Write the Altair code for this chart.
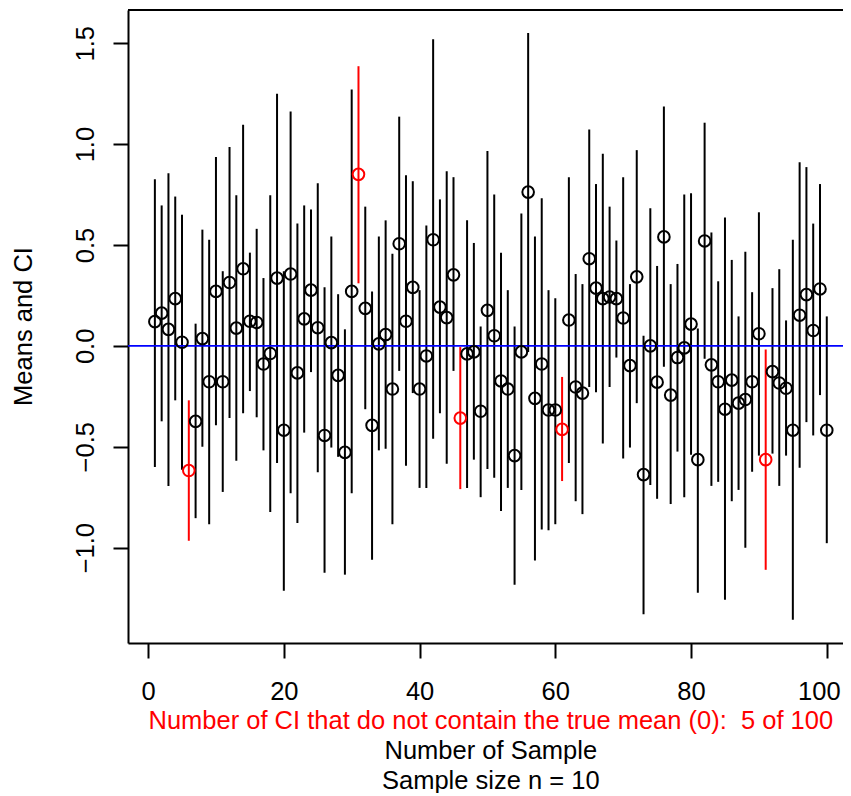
import altair as alt
import pandas as pd

sample = list(range(1, 101))

means = [0.12, 0.162, 0.082, 0.234, 0.018, -0.618, -0.374, 0.036, -0.178, 0.27,
         -0.178, 0.314, 0.088, 0.382, 0.122, 0.116, -0.09, -0.038, 0.336, -0.418,
         0.356, -0.134, 0.134, 0.276, 0.09, -0.444, 0.016, -0.146, -0.528, 0.27,
         0.85, 0.186, -0.394, 0.01, 0.056, -0.214, 0.506, 0.122, 0.29, -0.214,
         -0.05, 0.526, 0.192, 0.14, 0.352, -0.358, -0.04, -0.03, -0.324, 0.176,
         0.05, -0.174, -0.214, -0.544, -0.03, 0.762, -0.26, -0.09, -0.318, -0.318,
         -0.414, 0.128, -0.204, -0.234, 0.432, 0.286, 0.234, 0.242, 0.234, 0.138,
         -0.098, 0.342, -0.638, 0.0, -0.18, 0.54, -0.244, -0.058, -0.01, 0.108,
         -0.564, 0.52, -0.094, -0.178, -0.314, -0.17, -0.284, -0.266, -0.178, 0.06,
         -0.564, -0.128, -0.184, -0.21, -0.418, 0.152, 0.254, 0.076, 0.282, -0.418]

lower = [-0.60, -0.374, -0.694, -0.27, -0.614, -0.966, -0.854, -0.5, -0.884, -0.394,
         -0.724, -0.358, -0.57, -0.334, -0.224, -0.354, -0.518, -0.824, -0.58, -1.214,
         -0.73, -0.878, -0.43, -0.13, -0.626, -1.124, -0.504, -0.55, -1.134, -0.73,
         0.31, -0.314, -1.06, -0.518, -0.51, -0.884, -0.124, -0.594, -0.234, -0.704,
         -0.704, -0.46, -0.334, -0.584, -0.124, -0.71, -0.704, -0.564, -0.75, -0.61,
         -0.654, -0.818, -0.704, -1.184, -0.714, -0.03, -1.064, -0.91, -0.914, -0.884,
         -0.67, -0.58, -0.77, -0.834, -0.204, -0.23, -0.484, -0.204, -0.058, -0.558,
         -0.504, -0.284, -1.33, -0.69, -0.758, -0.104, -0.784, -0.524, -0.75, -0.54,
         -1.224, -0.064, -0.694, -0.674, -1.258, -0.77, -0.714, -1.0, -0.624, -0.544,
         -1.11, -0.534, -0.694, -0.544, -1.358, -0.604, -0.378, -0.444, -0.244, -0.978]

upper = [0.826, 0.696, 0.856, 0.74, 0.65, -0.27, 0.11, 0.576, 0.526, 0.936,
         0.37, 0.986, 0.746, 1.096, 0.462, 0.58, 0.336, 0.746, 1.25, 0.37,
         1.162, 0.606, 0.696, 0.676, 0.806, 0.29, 0.542, 0.256, 0.082, 1.27,
         1.386, 0.69, 0.27, 0.542, 0.622, 0.456, 1.136, 0.846, 0.816, 0.276,
         0.596, 1.52, 0.726, 0.866, 0.836, -0.006, 0.622, 0.51, 0.096, 0.966,
         0.75, 0.462, 0.276, 0.096, 0.656, 1.55, 0.542, 0.732, 0.276, 0.236,
         -0.154, 0.836, 0.356, 0.306, 1.072, 0.802, 0.952, 0.69, 0.522, 0.836,
         0.306, 0.97, 0.05, 0.682, 0.396, 1.186, 0.306, 0.406, 0.75, 0.756,
         0.086, 1.106, 0.562, 0.32, 0.636, 0.426, 0.146, 0.466, 0.266, 0.662,
         -0.018, 0.286, 0.38, 0.126, 0.526, 0.91, 0.886, 0.606, 0.802, 0.146]

x_ticks = [0, 20, 40, 60, 80, 100]
y_ticks = [-1.0, -0.5, 0.0, 0.5, 1.0, 1.5]

df = pd.DataFrame({"sample": sample, "mean": means, "lower": lower, "upper": upper})
df["miss"] = (df["upper"] < 0) | (df["lower"] > 0)
df["col"] = df["miss"].map({True: "#FF0000", False: "#000000"})
n_miss = int(df["miss"].sum())

W = 715
H = 633
FONT = "Liberation Sans"
FS = 25.5

xscale = alt.Scale(domain=[-2.96, 102.39], nice=False, zero=False)
yscale = alt.Scale(domain=[-1.4727, 1.6646], nice=False, zero=False)

xaxis = alt.Axis(values=x_ticks, title=None, grid=False, domainColor="black",
                 domainWidth=2, tickColor="black", tickWidth=2, tickSize=15,
                 labelFont=FONT, labelFontSize=FS, labelColor="black",
                 labelPadding=41, labelBaseline="alphabetic", labelFlush=False,
                 labelOverlap=False,
                 labelOffset={"condition": {"test": "datum.value == 100", "value": -8},
                              "value": 0})
yaxis = alt.Axis(values=y_ticks, format=".1f", title="Means and CI", grid=False,
                 domainColor="black", domainWidth=2, tickColor="black",
                 tickWidth=2, tickSize=15, labelFont=FONT, labelFontSize=FS,
                 labelColor="black", labelAngle=270, labelAlign="center",
                 labelBaseline="alphabetic", labelPadding=20, labelFlush=False,
                 labelOverlap=False, titleAngle=270, titleX=-97, titleY=316,
                 titleAlign="center", titleBaseline="alphabetic", titleFont=FONT,
                 titleFontSize=FS, titleFontWeight="normal", titleColor="black")

base = alt.Chart(df)

rules = base.mark_rule(strokeWidth=2).encode(
    x=alt.X("sample:Q", scale=xscale, axis=xaxis),
    y=alt.Y("lower:Q", scale=yscale, axis=yaxis),
    y2="upper:Q",
    color=alt.Color("col:N", scale=None),
)

zero = alt.Chart(pd.DataFrame({"y": [0.0]})).mark_rule(
    color="#0000FF", strokeWidth=1.6
).encode(y=alt.Y("y:Q", scale=yscale))

points = base.mark_point(shape="circle", filled=False, size=135,
                         strokeWidth=2, opacity=1).encode(
    x="sample:Q",
    y="mean:Q",
    color=alt.Color("col:N", scale=None),
)

top_border = alt.Chart(pd.DataFrame({"a": [0]})).mark_rule(
    color="black", strokeWidth=2
).encode(y=alt.value(0))

cx = 362.8
lines = pd.DataFrame({
    "t": [f"Number of CI that do not contain the true mean (0):\u00a0 {n_miss} of 100",
          "Number of Sample",
          "Sample size n = 10"],
    "c": ["#FF0000", "#000000", "#000000"],
    "yy": [719, 749, 779],
})
texts = alt.Chart(lines).mark_text(
    font=FONT, fontSize=FS, align="center", baseline="alphabetic"
).encode(
    x=alt.value(cx),
    y=alt.Y("yy:Q", scale=None, axis=None),
    text="t:N",
    color=alt.Color("c:N", scale=None),
)

chart = alt.layer(rules, zero, points, top_border, texts).properties(
    width=W, height=H,
    padding={"left": 120, "top": 2, "right": 0, "bottom": 150},
    autosize=alt.AutoSizeParams(type="none"),
).configure_view(stroke=None).configure(background="white")

chart.save("out.html", embed_options={"renderer": "svg", "actions": False})
